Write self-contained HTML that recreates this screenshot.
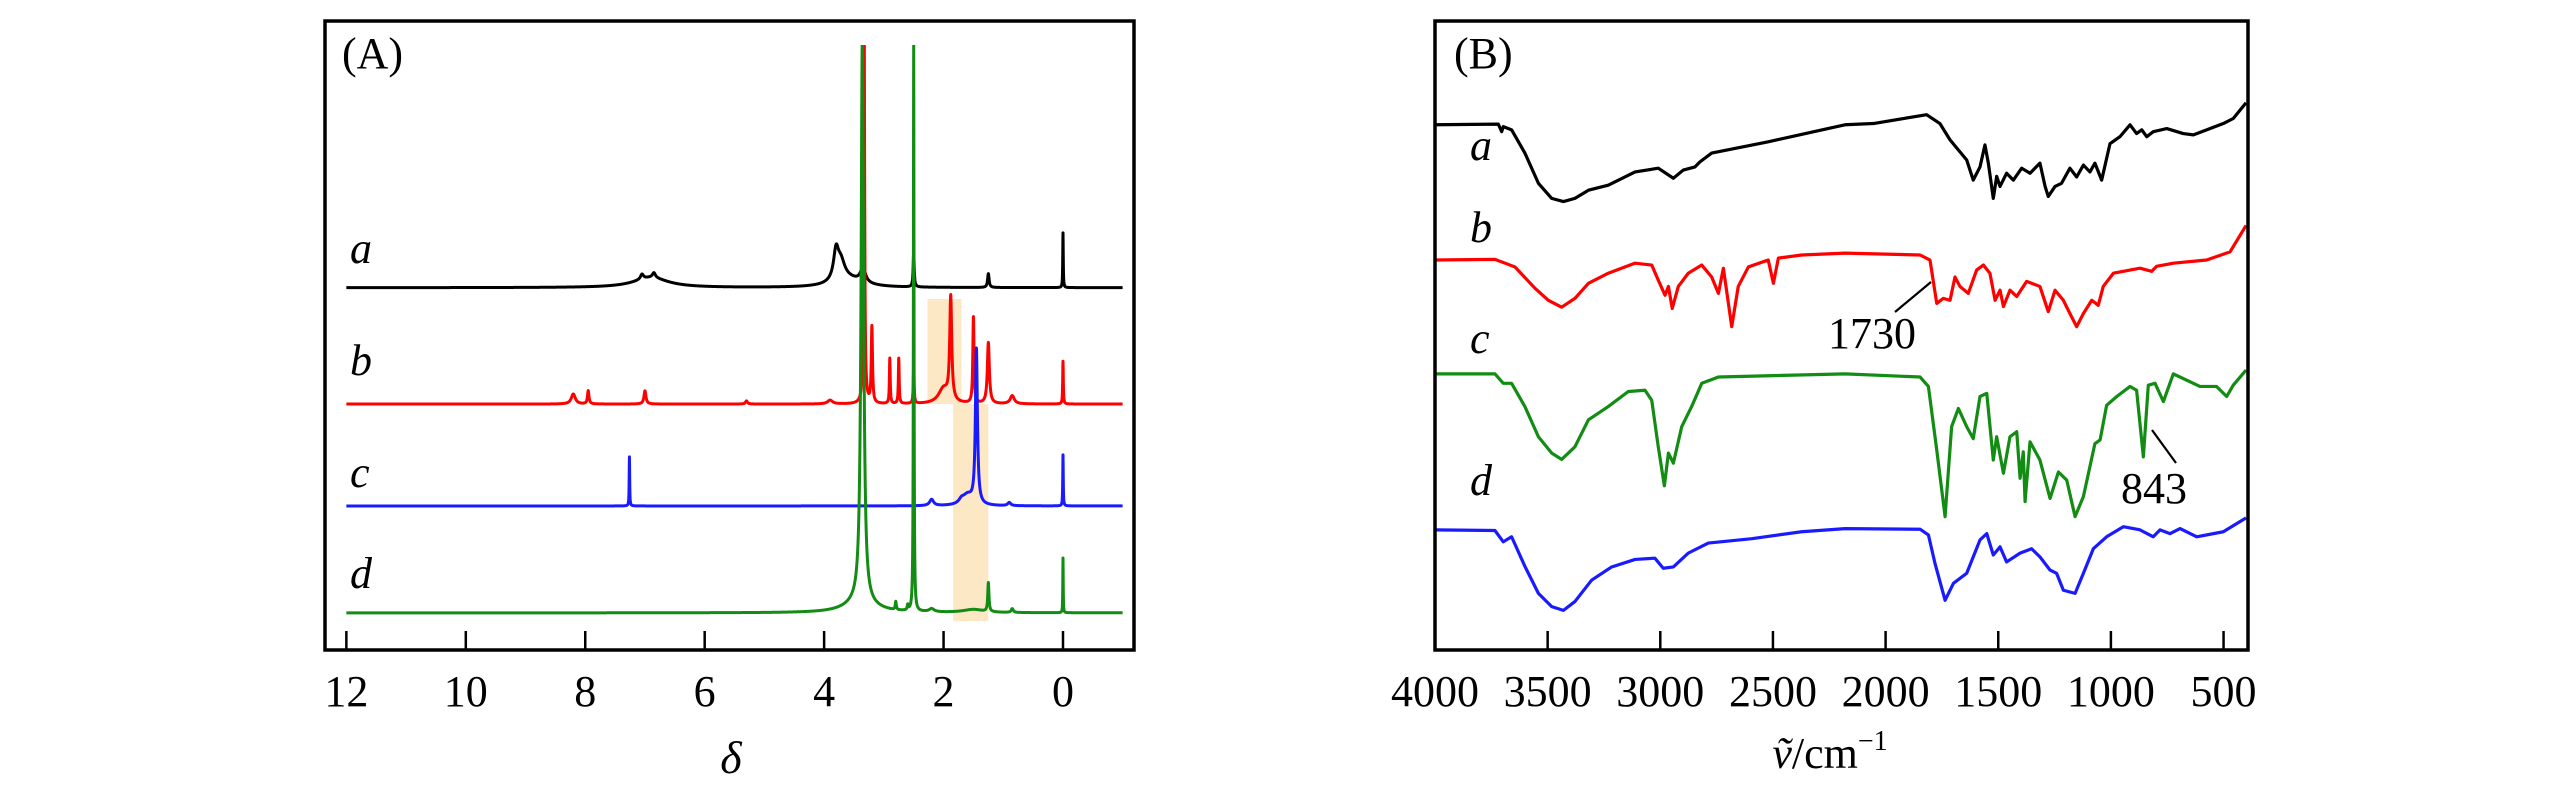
<!DOCTYPE html>
<html><head><meta charset="utf-8"><style>
html,body{margin:0;padding:0;background:#fff;}
svg{display:block;}
svg text{font-family:"Liberation Serif","Times New Roman",serif;fill:#000;}
</style></head><body>
<svg id="fig" width="2567" height="787" viewBox="0 0 2567 787" font-family="Liberation Serif, serif">
<defs><clipPath id="clipA"><rect x="325" y="45" width="809" height="605"/></clipPath>
<clipPath id="clipB"><rect x="1435" y="21" width="813" height="629"/></clipPath></defs>
<g id="panelA"></g>
<g id="panelB"></g>
</svg>
<script>
// ---------- Panel A (1H NMR) data ----------
const nmrTicks = [12, 10, 8, 6, 4, 2, 0];
const nmrOffsets = [57.6, 39.1, 22.9, 5.9];
const nmrNames = ['a', 'b', 'c', 'd'];
const nmrColors = ['#000000', '#ff0000', '#1a1aff', '#128c12'];
// peaks: [shift, height, halfwidth]
const nmrPeaksA = [[6.9,1.6,0.35],[7.05,0.8,0.03],[6.85,0.8,0.03],[3.8,4.5,0.05],[3.72,2.9,0.08],[3.6,1.3,0.3],[3.35,2.4,0.05],[2.5,5.7,0.01],[1.25,2.2,0.015],[0,8.7,0.005]];
const nmrPeaksB = [[8.2,1.6,0.04],[7.95,2.1,0.015],[7.0,2.1,0.02],[5.3,0.5,0.02],[3.9,0.6,0.05],[3.33,64,0.01],[3.2,12.1,0.012],[2.9,7.2,0.008],[2.75,7.2,0.008],[2.5,6.4,0.008],[2.0,2.4,0.1],[1.88,16.4,0.02],[1.5,13.7,0.012],[1.25,9.7,0.02],[0.85,1.3,0.04],[0,6.8,0.006]];
const nmrPeaksC = [[7.26,7.8,0.005],[2.2,1.0,0.04],[1.7,0.6,0.05],[1.6,1.6,0.1],[1.45,24.6,0.02],[0.9,0.5,0.03],[0,8.1,0.005]];
const nmrPeaksD = [[3.36,90,0.025],[3.4,1.6,0.3],[2.8,1.3,0.01],[2.6,0.8,0.01],[2.2,0.5,0.05],[2.5,90,0.006],[1.5,0.5,0.2],[1.25,4.6,0.012],[0.85,0.6,0.02],[0,8.7,0.004]];
const nmrHighlights = [[2.27,1.70,39.1,55.8],[1.84,1.25,4.6,39.1]];

// ---------- Panel B (FTIR) data ----------
const irTicks = [4000, 3500, 3000, 2500, 2000, 1500, 1000, 500];
const irNames = ['a','b','c','d'];
const irColors = ['#000000', '#ff0000', '#128c12', '#1a1aff'];
const irA = [[4000,83.5],[3719,83.6],[3704,82.4],[3697,83.2],[3660,82.7],[3601,79.0],[3541,74.2],[3482,71.8],[3430,71.3],[3379,71.8],[3319,73.1],[3231,73.9],[3112,76.0],[3009,76.6],[2942,75.0],[2898,76.3],[2846,76.8],[2824,77.6],[2772,79.0],[2521,80.8],[2180,83.5],[2054,83.7],[1818,85.1],[1759,83.7],[1714,81.1],[1640,77.9],[1611,74.7],[1581,76.8],[1559,80.3],[1544,77.4],[1522,71.8],[1507,75.3],[1492,73.7],[1463,75.8],[1433,74.7],[1396,76.6],[1359,75.8],[1315,77.4],[1292,73.7],[1278,72.1],[1248,73.7],[1219,74.2],[1182,76.6],[1152,75.2],[1122,77.1],[1093,76.0],[1071,77.4],[1041,74.7],[1004,80.5],[960,81.6],[915,83.5],[886,82.1],[863,82.7],[841,81.6],[812,82.4],[752,82.9],[679,82.1],[634,81.9],[575,82.7],[501,83.7],[457,84.5],[400,87.0]];
const irB = [[4000,62.0],[3734,62.1],[3645,60.9],[3556,57.5],[3497,55.6],[3438,54.5],[3379,55.9],[3319,58.3],[3231,59.9],[3112,61.5],[3038,61.2],[3009,58.8],[2979,56.4],[2964,57.8],[2947,54.3],[2920,57.8],[2876,59.9],[2816,61.2],[2772,59.3],[2742,56.7],[2720,60.7],[2683,51.4],[2654,57.8],[2609,60.9],[2521,62.0],[2498,58.3],[2476,62.3],[2373,62.8],[2180,63.1],[1847,62.8],[1803,62.0],[1773,55.1],[1744,55.9],[1714,55.6],[1692,59.3],[1670,57.8],[1633,56.7],[1596,60.4],[1566,61.2],[1537,59.9],[1514,55.6],[1492,57.2],[1477,54.6],[1448,57.2],[1418,56.2],[1374,58.6],[1315,57.8],[1278,53.8],[1248,57.2],[1211,55.6],[1182,53.5],[1152,51.4],[1122,53.5],[1085,55.6],[1056,54.8],[1034,57.8],[989,59.9],[871,60.7],[819,60.2],[797,61.0],[723,61.5],[575,62.0],[471,63.3],[400,67.5]];
const irC = [[4000,43.9],[3734,43.9],[3697,42.4],[3660,42.4],[3601,38.7],[3541,33.9],[3482,31.3],[3438,30.3],[3379,32.3],[3319,36.6],[3231,38.7],[3142,41.1],[3068,41.3],[3038,39.7],[3009,32.3],[2982,26.1],[2964,31.3],[2942,29.7],[2905,35.5],[2861,38.7],[2816,42.4],[2742,43.4],[2180,43.9],[1847,43.4],[1810,41.9],[1773,31.8],[1736,21.2],[1707,35.5],[1677,38.4],[1640,35.5],[1611,33.6],[1581,40.3],[1551,40.8],[1522,30.2],[1507,33.9],[1477,28.1],[1448,33.9],[1418,34.7],[1403,27.3],[1389,31.5],[1381,23.6],[1359,33.1],[1315,30.2],[1270,24.1],[1233,28.3],[1196,27.0],[1159,21.2],[1122,24.4],[1071,32.8],[1048,33.4],[1019,38.9],[974,40.3],[915,41.9],[886,41.3],[856,30.7],[834,42.1],[804,42.4],[767,39.5],[723,43.9],[605,41.9],[531,41.9],[486,40.3],[457,42.1],[400,44.5]];
const irD = [[4000,19.1],[3734,19.0],[3697,17.2],[3660,18.0],[3601,13.3],[3541,9.0],[3482,6.9],[3430,6.3],[3379,7.7],[3305,11.1],[3216,13.2],[3112,14.4],[3024,14.6],[2987,13.0],[2942,13.2],[2876,15.4],[2787,17.0],[2594,17.7],[2373,18.8],[2180,19.3],[1847,19.2],[1810,18.3],[1781,13.8],[1736,7.9],[1699,10.6],[1640,12.2],[1581,17.5],[1551,18.5],[1522,15.1],[1492,16.4],[1463,14.0],[1403,15.4],[1352,16.1],[1315,14.8],[1270,12.7],[1241,12.2],[1211,9.5],[1159,9.0],[1122,12.2],[1078,16.1],[1019,18.0],[945,19.6],[871,19.1],[812,18.0],[782,19.1],[738,18.5],[693,19.3],[619,18.0],[501,18.8],[400,21.0]];

const NS = 'http://www.w3.org/2000/svg';
function mk(tag, attrs, parent){ const e=document.createElementNS(NS,tag); for(const k in attrs) e.setAttribute(k,attrs[k]); parent.appendChild(e); return e; }
const FONT = 'Liberation Serif, Times New Roman, serif';
// shared y scale (0..100 -> 650..21)
const yS = v => 650 - v*6.29;

// ===== Panel A =====
const gA = document.getElementById('panelA');
const xA = d => 1063 - d*59.72;
nmrHighlights.forEach((h,i)=>{
  const r = mk('rect',{x:xA(h[0]),y:yS(h[3]),width:xA(h[1])-xA(h[0]),height:yS(h[2])-yS(h[3]),fill:'#fde8c6'},gA);
  
  
});
const nmrAll=[nmrPeaksA,nmrPeaksB,nmrPeaksC,nmrPeaksD];
const gCurvesA = mk('g',{'clip-path':'url(#clipA)'},gA);
nmrAll.forEach((peaks,i)=>{
  let xs=[]; for(let d=12; d>=-1.0; d-=0.002) xs.push(d);
  peaks.forEach(p=>xs.push(p[0]));
  xs.sort((a,b)=>b-a);
  let pts=xs.map(d=>{let v=nmrOffsets[i]; peaks.forEach(p=>{const w=p[2]; v+=p[1]*w*w/((d-p[0])*(d-p[0])+w*w);}); return xA(d).toFixed(2)+','+yS(v).toFixed(2);});
  const pl=mk('polyline',{points:pts.join(' '),fill:'none',stroke:nmrColors[i],'stroke-width':3,'stroke-linejoin':'round'},gCurvesA);
  
  
});
const frA=mk('rect',{x:325,y:21,width:809,height:629,fill:'none',stroke:'#000','stroke-width':3.5},gA);


nmrTicks.forEach(t=>{
  const l=mk('line',{x1:xA(t),x2:xA(t),y1:650,y2:631,stroke:'#000','stroke-width':2.5},gA);
  
  
  const tx=mk('text',{x:xA(t),y:706,'font-size':44,'text-anchor':'middle','font-family':FONT},gA);
  tx.textContent=t;
  
  
});
const labA=mk('text',{x:342,y:68,'font-size':44,'font-family':FONT},gA); labA.textContent='(A)';


const nmrLabelY=[263,375,487,588];
nmrNames.forEach((n,i)=>{
  const t=mk('text',{x:350,y:nmrLabelY[i],'font-size':44,'font-style':'italic','font-family':FONT},gA); t.textContent=n;
  
  
});
const xtA=mk('text',{x:731,y:773,'font-size':46,'font-style':'italic','text-anchor':'middle','font-family':FONT},gA); xtA.textContent='δ';



// ===== Panel B =====
const gB = document.getElementById('panelB');
const xB = w => 1435 + (4000-w)*0.2253;
const gCurvesB = mk('g',{'clip-path':'url(#clipB)'},gB);
[irA,irB,irC,irD].forEach((s,i)=>{
  const pl=mk('polyline',{points:s.map(p=>xB(p[0]).toFixed(2)+','+yS(p[1]).toFixed(2)).join(' '),fill:'none',stroke:irColors[i],'stroke-width':3.2,'stroke-linejoin':'round'},gCurvesB);
  
  
});
const frB=mk('rect',{x:1435,y:21,width:813,height:629,fill:'none',stroke:'#000','stroke-width':3.5},gB);


irTicks.forEach(t=>{
  if(t<4000){
    const l=mk('line',{x1:xB(t),x2:xB(t),y1:650,y2:631,stroke:'#000','stroke-width':2.5},gB);
    
    
  }
  const tx=mk('text',{x:xB(t),y:706,'font-size':44,'text-anchor':'middle','font-family':FONT},gB); tx.textContent=t;
  
  
});
const labB=mk('text',{x:1454,y:68,'font-size':44,'font-family':FONT},gB); labB.textContent='(B)';


const irLabelY=[160,242,353,495];
irNames.forEach((n,i)=>{
  const t=mk('text',{x:1470,y:irLabelY[i],'font-size':44,'font-style':'italic','font-family':FONT},gB); t.textContent=n;
  
  
});
const a1=mk('text',{x:1828,y:348,'font-size':44,'font-family':FONT},gB); a1.textContent='1730';


const l1=mk('line',{x1:1895,y1:312,x2:1931,y2:282,stroke:'#000','stroke-width':2.2},gB);


const a2=mk('text',{x:2121,y:503,'font-size':44,'font-family':FONT},gB); a2.textContent='843';


const l2=mk('line',{x1:2152,y1:430,x2:2176,y2:463,stroke:'#000','stroke-width':2.2},gB);


const xtB=mk('text',{x:1830,y:768,'font-size':44,'text-anchor':'middle','font-family':FONT},gB);
const v1=mk('tspan',{'font-style':'italic'},xtB); v1.textContent='ṽ';
const v2=mk('tspan',{},xtB); v2.textContent='/cm';
const v3=mk('tspan',{'font-size':28,dy:-18},xtB); v3.textContent='−1';


</script>
</body></html>
